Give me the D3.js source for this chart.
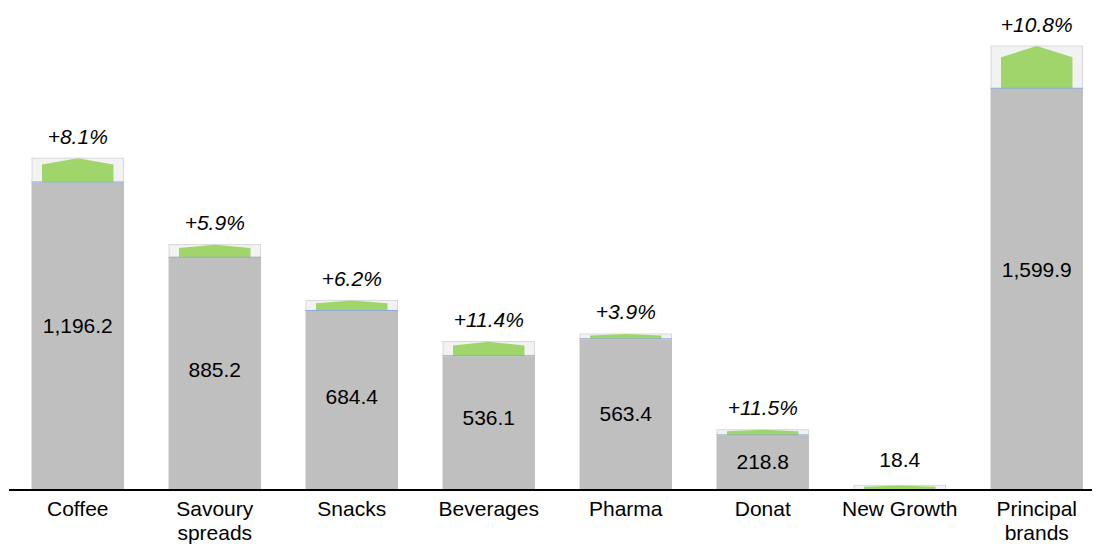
<!DOCTYPE html>
<html>
<head>
<meta charset="utf-8">
<script src="https://cdn.jsdelivr.net/npm/d3@7"></script>
<style>
  html, body { margin: 0; padding: 0; background: #ffffff; }
  svg { display: block; font-family: "Liberation Sans", Arial, sans-serif; }
</style>
</head>
<body>
<svg id="chart" width="1095" height="544"></svg>
<script>
// Sales by business line: current value and growth versus prior year (%)
const categories = ["Coffee", "Savoury spreads", "Snacks", "Beverages", "Pharma", "Donat", "New Growth", "Principal brands"];
const categoryLines = [["Coffee"], ["Savoury", "spreads"], ["Snacks"], ["Beverages"], ["Pharma"], ["Donat"], ["New Growth"], ["Principal", "brands"]];
const values = [1196.2, 885.2, 684.4, 536.1, 563.4, 218.8, 18.4, 1599.9];
const growthPct = [8.1, 5.9, 6.2, 11.4, 3.9, 11.5, null, 10.8];

const svg = d3.select("#chart");
const baseY = 490;

const x = d3.scaleBand()
  .domain(categories)
  .range([9.25, 1105.25])
  .paddingInner(0.325)
  .paddingOuter(0.1625);

const y = d3.scaleLinear()
  .domain([0, 1599.9])
  .range([baseY, 45.5]);

const data = categories.map((c, i) => {
  const g = growthPct[i];
  const prior = g == null ? 0 : values[i] / (1 + g / 100);
  return { cat: c, lines: categoryLines[i], value: values[i], growth: g, prior };
});

const fmtVal = d3.format(",.1f");
const bw = x.bandwidth();
const inset = 10.5;

const g = svg.append("g");

// prior-year base bars
g.selectAll("rect.base")
  .data(data.filter(d => d.prior > 0))
  .join("rect")
  .attr("class", "base")
  .attr("x", d => x(d.cat))
  .attr("y", d => y(d.prior))
  .attr("width", bw)
  .attr("height", d => baseY - y(d.prior))
  .attr("fill", "#bfbfbf");

// growth increment boxes
g.selectAll("rect.delta")
  .data(data)
  .join("rect")
  .attr("class", "delta")
  .attr("x", d => x(d.cat) + 0.5)
  .attr("y", d => y(d.value) + 0.5)
  .attr("width", bw - 1)
  .attr("height", d => Math.max(0, y(d.prior) - y(d.value) - 1))
  .attr("fill", "#f2f2f2")
  .attr("stroke", "#d9d9d9")
  .attr("stroke-width", 1);

// green arrow shapes inside the increment boxes
g.selectAll("path.arrow")
  .data(data)
  .join("path")
  .attr("class", "arrow")
  .attr("fill", "#a0d56b")
  .attr("d", d => {
    const x0 = x(d.cat) + inset, x1 = x(d.cat) + bw - inset, xm = (x0 + x1) / 2;
    const top = y(d.value) + 0.6, bot = y(d.prior);
    const h = bot - top;
    const drop = h * 0.26;
    return `M${x0},${bot}L${x0},${top + drop}L${xm},${top}L${x1},${top + drop}L${x1},${bot}Z`;
  });

// thin line marking the prior-year level
g.selectAll("line.prior")
  .data(data.filter(d => d.prior > 0))
  .join("line")
  .attr("class", "prior")
  .attr("x1", d => x(d.cat))
  .attr("x2", d => x(d.cat) + bw)
  .attr("y1", d => y(d.prior) - 0.5)
  .attr("y2", d => y(d.prior) - 0.5)
  .attr("stroke", "#8eaad8")
  .attr("stroke-width", 1);

// value labels
g.selectAll("text.val")
  .data(data)
  .join("text")
  .attr("class", "val")
  .attr("x", d => x(d.cat) + bw / 2)
  .attr("y", d => {
    const top = y(d.value);
    if (baseY - top < 30) return top - 18;
    return (top + baseY) / 2 + 9.5;
  })
  .attr("text-anchor", "middle")
  .attr("font-size", 21)
  .attr("fill", "#000")
  .text(d => fmtVal(d.value));

// growth labels
g.selectAll("text.pct")
  .data(data.filter(d => d.growth != null))
  .join("text")
  .attr("class", "pct")
  .attr("x", d => x(d.cat) + bw / 2)
  .attr("y", d => y(d.value) - 14)
  .attr("text-anchor", "middle")
  .attr("font-size", 21)
  .attr("font-style", "italic")
  .attr("fill", "#000")
  .text(d => "+" + d.growth.toFixed(1) + "%");

// baseline
svg.append("line")
  .attr("x1", 9)
  .attr("x2", 1092)
  .attr("y1", baseY)
  .attr("y2", baseY)
  .attr("stroke", "#000")
  .attr("stroke-width", 2);

// category labels
const cl = svg.selectAll("text.cat")
  .data(data)
  .join("text")
  .attr("class", "cat")
  .attr("x", d => x(d.cat) + bw / 2)
  .attr("y", baseY + 26)
  .attr("text-anchor", "middle")
  .attr("font-size", 21)
  .attr("fill", "#000");

cl.selectAll("tspan")
  .data(d => d.lines.map(t => ({ t, xc: x(d.cat) + bw / 2 })))
  .join("tspan")
  .attr("x", t => t.xc)
  .attr("dy", (t, i) => i === 0 ? 0 : 24)
  .text(t => t.t);
</script>
</body>
</html>
